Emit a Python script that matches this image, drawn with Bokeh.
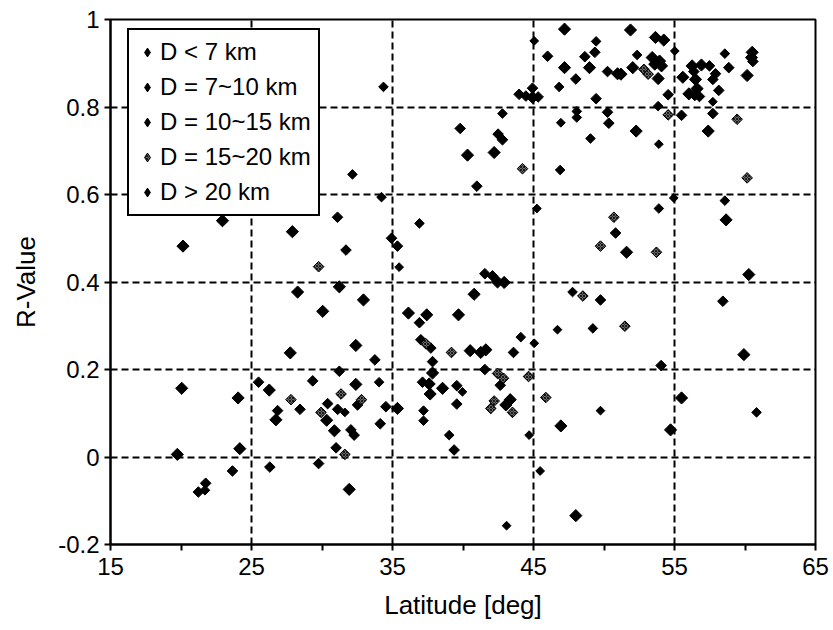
import numpy as np
from bokeh.plotting import figure
from bokeh.models import (Range1d, FixedTicker, CustomJSTickFormatter, Legend,
                          LegendItem, ColumnDataSource)
from bokeh.embed import file_html
from bokeh.resources import INLINE

# ---------------- data (latitude [deg], R-value) ----------------
series_labels = ["D < 7 km", "D = 7~10 km", "D = 10~15 km", "D = 15~20 km", "D > 20 km"]

lat_lt7 = [45.05, 46.94, 45.24, 35.47, 55.02, 57.72, 53.89, 54.95, 31.62, 46.7,
           45.05, 39.96, 44.69, 45.47, 43.09, 49.75]
r_lt7 = [0.951, 0.764, 0.568, 0.434, 0.928, 0.812, 0.715, 0.592, 0.102, 0.291,
         0.260, 0.149, 0.050, -0.032, -0.157, 0.106]

lat_7_10 = [34.36, 46.82, 42.8, 48.07, 48.07, 46.89, 32.16, 34.22, 36.91, 49.44,
            52.35, 58.57, 53.84, 49.04, 58.57, 53.89, 21.7, 47.77, 44.1, 34.05,
            37.2, 37.2, 39.02, 49.21, 60.82]
r_7_10 = [0.846, 0.846, 0.785, 0.790, 0.776, 0.656, 0.646, 0.594, 0.534, 0.950,
          0.919, 0.922, 0.802, 0.728, 0.586, 0.568, -0.076, 0.377, 0.274, 0.171,
          0.106, 0.083, 0.050, 0.294, 0.102]

lat_10_15 = [31.1, 31.7, 46.0, 48.0, 44.93, 43.98, 44.46, 45.33, 39.8, 42.49,
             42.8, 40.98, 34.93, 35.35, 41.55, 42.09, 48.64, 49.35, 60.56, 58.85,
             50.25, 57.48, 57.91, 56.37, 57.72, 58.14, 56.77, 54.55, 49.44, 50.25,
             55.5, 57.72, 50.34, 50.82, 31.23, 25.5, 29.34, 28.44, 26.85, 30.4,
             31.11, 31.0, 26.3, 23.65, 29.76, 21.75, 21.23, 36.91, 37.01, 37.72,
             43.58, 33.75, 37.84, 41.55, 42.64, 37.13, 39.56, 32.52, 34.53, 39.56,
             34.13, 32.05, 32.28, 39.37, 49.75, 58.43, 54.05]
r_10_15 = [0.548, 0.473, 0.916, 0.864, 0.843, 0.829, 0.825, 0.823, 0.751, 0.738,
           0.725, 0.619, 0.500, 0.482, 0.419, 0.414, 0.915, 0.925, 0.904, 0.890,
           0.881, 0.894, 0.876, 0.881, 0.863, 0.838, 0.824, 0.828, 0.819, 0.788,
           0.781, 0.785, 0.763, 0.512, 0.196, 0.171, 0.174, 0.109, 0.106, 0.122,
           0.109, 0.021, -0.023, -0.032, -0.015, -0.060, -0.080, 0.307, 0.268, 0.249,
           0.239, 0.222, 0.218, 0.200, 0.164, 0.171, 0.163, 0.119, 0.115, 0.121,
           0.076, 0.062, 0.050, 0.016, 0.359, 0.356, 0.209]

lat_15_20 = [29.76, 44.22, 52.83, 53.13, 54.55, 59.44, 60.15, 50.7, 49.75, 53.72,
             27.8, 29.93, 31.35, 31.62, 37.36, 39.18, 42.45, 42.87, 44.65, 45.87,
             32.8, 42.21, 41.97, 43.51, 48.5, 51.48]
r_15_20 = [0.435, 0.659, 0.886, 0.875, 0.782, 0.772, 0.638, 0.548, 0.482, 0.468,
           0.131, 0.102, 0.144, 0.006, 0.259, 0.239, 0.191, 0.180, 0.184, 0.136,
           0.131, 0.128, 0.111, 0.102, 0.368, 0.299]

lat_gt20 = [22.94, 20.14, 27.9, 47.2, 47.2, 44.93, 40.32, 42.21, 42.45, 42.92,
            51.88, 53.65, 54.24, 53.42, 53.94, 53.6, 54.08, 60.51, 60.46, 48.97,
            50.96, 51.2, 52.04, 56.25, 56.91, 60.15, 53.84, 55.59, 56.49, 56.6,
            56.02, 56.44, 52.28, 57.39, 58.66, 51.6, 60.27, 31.23, 28.27, 30.05,
            27.75, 20.05, 26.26, 24.05, 26.73, 30.33, 30.88, 24.17, 19.74, 31.93,
            32.94, 40.79, 36.13, 37.43, 39.68, 32.4, 40.51, 41.26, 41.62, 37.84,
            32.4, 37.6, 38.55, 37.67, 35.35, 43.35, 43.04, 46.94, 48.0, 59.92,
            55.5, 54.72]
r_gt20 = [0.540, 0.482, 0.515, 0.978, 0.890, 0.822, 0.690, 0.696, 0.400, 0.399,
          0.976, 0.959, 0.953, 0.913, 0.905, 0.898, 0.894, 0.925, 0.913, 0.890,
          0.876, 0.875, 0.890, 0.894, 0.896, 0.872, 0.865, 0.868, 0.863, 0.842,
          0.830, 0.828, 0.745, 0.745, 0.542, 0.468, 0.417, 0.389, 0.377, 0.333,
          0.238, 0.157, 0.153, 0.135, 0.085, 0.084, 0.060, 0.019, 0.006, -0.074,
          0.359, 0.372, 0.329, 0.325, 0.325, 0.255, 0.243, 0.239, 0.245, 0.192,
          0.166, 0.167, 0.157, 0.144, 0.111, 0.131, 0.119, 0.071, -0.134, 0.234,
          0.135, 0.062]

x_ticks = [15, 25, 35, 45, 55, 65]
x_minor_ticks = [20, 30, 40, 50, 60]
y_ticks = [-0.2, 0.0, 0.2, 0.4, 0.6, 0.8, 1.0]
y_tick_labels = ["-0.2", "0", "0.2", "0.4", "0.6", "0.8", "1"]

# ---------------- figure ----------------
FONT = "Liberation Sans"
p = figure(width=833, height=630, output_backend="svg", toolbar_location=None,
           x_range=Range1d(15, 65), y_range=Range1d(-0.2, 1.0),
           min_border_left=110, min_border_right=18, min_border_top=19,
           min_border_bottom=86, background_fill_color="white",
           border_fill_color="white")

p.outline_line_color = "black"
p.outline_line_width = 2

# axes
p.xaxis.ticker = FixedTicker(ticks=x_ticks, minor_ticks=x_minor_ticks)
p.yaxis.ticker = FixedTicker(ticks=y_ticks)
p.yaxis.formatter = CustomJSTickFormatter(args=dict(tvals=y_ticks, tlabels=y_tick_labels), code="""
let best = 0;
for (let i = 0; i < tvals.length; i++) {
  if (Math.abs(tvals[i] - tick) < Math.abs(tvals[best] - tick)) best = i;
}
return tlabels[best];
""")
for ax in (p.xaxis[0], p.yaxis[0]):
    ax.axis_line_color = "black"
    ax.axis_line_width = 2
    ax.major_tick_line_color = "black"
    ax.major_tick_line_width = 2
    ax.major_tick_out = 6
    ax.major_tick_in = 0
    ax.major_label_text_font = FONT
    ax.major_label_text_font_size = "24px"
    ax.major_label_text_color = "black"
    ax.axis_label_text_font = FONT
    ax.axis_label_text_font_size = "26px"
    ax.axis_label_text_font_style = "normal"
    ax.axis_label_text_color = "black"
p.xaxis.minor_tick_line_color = "black"
p.xaxis.minor_tick_line_width = 2
p.xaxis.minor_tick_out = 6
p.xaxis.minor_tick_in = 0
p.yaxis.minor_tick_out = 0
p.yaxis.minor_tick_in = 0
p.xaxis.major_label_standoff = 7
p.yaxis.major_label_standoff = 5
p.xaxis.axis_label = "Latitude [deg]"
p.yaxis.axis_label = "R-Value"
p.xaxis.axis_label_standoff = 12
p.yaxis.axis_label_standoff = 14

# grid
p.xgrid.ticker = FixedTicker(ticks=[t for t in x_ticks if 15 < t < 65])
p.ygrid.ticker = FixedTicker(ticks=[t for t in y_ticks if -0.2 < t < 1.0])
for g in (p.xgrid[0], p.ygrid[0]):
    g.grid_line_color = "black"
    g.grid_line_width = 2
    g.grid_line_dash = "7 4"

# ---------------- markers ----------------
styles = [
    dict(size=6.2, fill_color="black", line_color="black"),
    dict(size=6.8, fill_color="black", line_color="black"),
    dict(size=7.5, fill_color="black", line_color="black"),
    dict(size=7.5, fill_color="#6a6a6a", line_color="black", hatch_pattern="x",
         hatch_color="#1a1a1a", hatch_scale=3, hatch_weight=1),
    dict(size=8.6, fill_color="black", line_color="black"),
]
series = [(lat_lt7, r_lt7), (lat_7_10, r_7_10), (lat_10_15, r_10_15),
          (lat_15_20, r_15_20), (lat_gt20, r_gt20)]

for (xs, ys), st in zip(series, styles):
    src = ColumnDataSource(dict(x=xs, y=ys))
    p.scatter("x", "y", source=src, marker="square", angle=np.pi / 4,
              line_width=1, **st)

# legend: diamond glyphs from placeholder renderers (NaN position, never drawn in the plot)
items = []
for lab, st in zip(series_labels, styles):
    st2 = {k: v for k, v in st.items() if k != "size"}
    src = ColumnDataSource(dict(x=[np.nan], y=[np.nan]))
    r = p.scatter("x", "y", source=src, marker="diamond", size=9, line_width=1, **st2)
    items.append(LegendItem(label=lab, renderers=[r]))

legend = Legend(items=items, location=(17, 328), orientation="vertical",
                label_text_font=FONT, label_text_font_size="24px",
                label_text_color="black", glyph_width=22, glyph_height=30,
                label_height=30, label_standoff=2, spacing=5, padding=7,
                margin=0, border_line_color="black", border_line_width=2,
                border_line_alpha=1.0,
                background_fill_color="white", background_fill_alpha=1.0)
p.add_layout(legend)

open("out.html", "w").write(file_html(p, INLINE))
